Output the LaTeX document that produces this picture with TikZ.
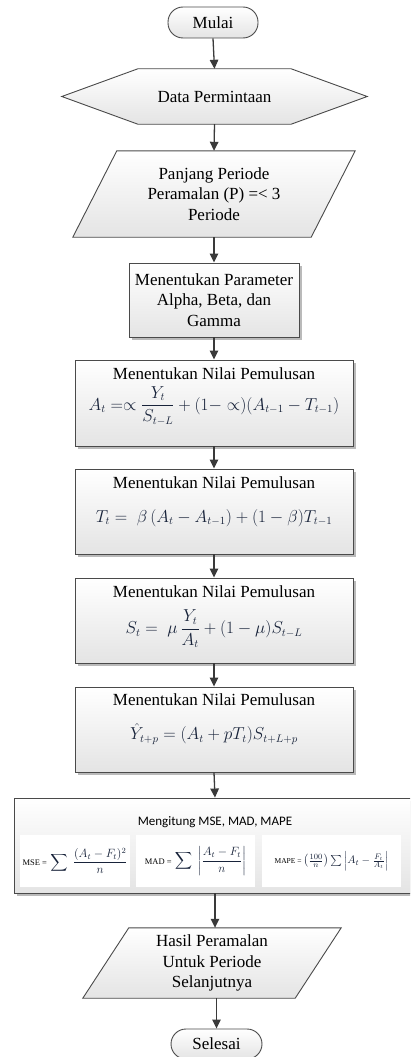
\documentclass[tikz,border=0pt]{standalone}
\usepackage{fontspec}
\setmainfont{Liberation Serif}
\newfontfamily\calibri{Carlito}
\usepackage{amsmath}
\usetikzlibrary{arrows.meta,shadows,backgrounds}
\definecolor{edge}{HTML}{4A4A4A}
\definecolor{arr}{HTML}{3A3A3A}
\definecolor{mathc}{HTML}{18233A}
\definecolor{fillbot}{HTML}{E4E4E4}
\begin{document}
\begin{tikzpicture}[x=1pt,y=-1pt,
  shapefill/.style={draw=edge, line width=0.9pt, top color=white, bottom color=fillbot},
  boxshadow/.style={drop shadow={shadow xshift=2.5pt, shadow yshift=-2.5pt, fill=black!45, opacity=0.6}},
  procbox/.style={shapefill, boxshadow, rectangle, inner sep=0pt},
  term/.style={shapefill, rounded corners=15pt, inner sep=0pt, font=\fontsize{17}{20}\selectfont},
  txt/.style={font=\fontsize{17}{20.5}\selectfont, align=center, inner sep=0pt},
  frm/.style={text=mathc, inner sep=0pt, font=\fontsize{16}{19}\selectfont},
  flow/.style={draw=arr, line width=1.3pt, -{Triangle[length=9pt,width=8.5pt]}},
  subbox/.style={fill=white, inner sep=0pt, minimum height=52pt, text=mathc},
]
\clip (0,0) rectangle (410,1057);
\useasboundingbox (0,0) rectangle (410,1057);

% terminator start
\node[term, minimum width=90pt, minimum height=31pt] (mulai) at (213,22.5) {Mulai};

% hexagon data
\node[txt, minimum width=305pt, minimum height=55pt] (data) at (214.5,96.5) {Data Permintaan};

% parallelogram input
\node[txt, minimum width=282pt, minimum height=86pt] (panjang) at (214,194) {Panjang Periode\\Peramalan (P) =< 3\\Periode};

% parameter box
\node[procbox, txt, minimum width=170pt, minimum height=74pt] (param) at (214,300) {Menentukan Parameter\\Alpha, Beta, dan\\Gamma};

% smoothing boxes
\node[procbox, minimum width=278pt, minimum height=86pt] (bA) at (214,403) {};
\node[txt] (tA) at (214,374) {Menentukan Nilai Pemulusan};
\node[frm] (fA) at (214,406) {$A_t = \propto \dfrac{Y_t}{S_{t-L}} + (1-\propto)(A_{t-1}-T_{t-1})$};

\node[procbox, minimum width=278pt, minimum height=85pt] (bT) at (214,511.5) {};
\node[txt] (tT) at (214,483) {Menentukan Nilai Pemulusan};
\node[frm] (fT) at (214,518) {$T_t = \;\beta\,(A_t - A_{t-1}) + (1-\beta)T_{t-1}$};

\node[procbox, minimum width=278pt, minimum height=85pt] (bS) at (214,620.5) {};
\node[txt] (tS) at (214,592) {Menentukan Nilai Pemulusan};
\node[frm] (fS) at (214,629) {$S_t = \;\mu\,\dfrac{Y_t}{A_t} + (1-\mu)S_{t-L}$};

\node[procbox, minimum width=278pt, minimum height=85pt] (bY) at (214,729.5) {};
\node[txt] (tY) at (214,700) {Menentukan Nilai Pemulusan};
\node[frm] (fY) at (214,734) {$\hat{Y}_{t+p} = (A_t + pT_t)S_{t+L+p}$};

% error measures box
\node[procbox, minimum width=402pt, minimum height=95pt] (bM) at (215,845.5) {};
\node[font=\calibri\fontsize{13}{15}\selectfont, inner sep=0pt] (tM) at (215,822) {Mengitung MSE, MAD, MAPE};
\node[subbox, minimum width=110pt, font=\fontsize{12}{14}\selectfont] (mse) at (75,861)
  {{\color{black}\fontsize{8.5}{9}\selectfont MSE =}\;$\displaystyle\sum\;\frac{(A_t-F_t)^2}{n}$};
\node[subbox, minimum width=119pt, font=\fontsize{12}{14}\selectfont] (mad) at (195.5,861)
  {{\color{black}\fontsize{8.5}{9}\selectfont MAD =}\;$\displaystyle\sum\;\left|\frac{A_t-F_t}{n}\right|$};
\node[subbox, minimum width=139pt, font=\fontsize{11}{13}\selectfont] (mape) at (331.5,861)
  {{\color{black}\fontsize{7.5}{8}\selectfont MAPE =}\,$\left(\frac{100}{n}\right)\sum\left|A_t-\frac{F_t}{A_t}\right|$};

% output parallelogram
\node[txt, minimum width=258pt, minimum height=70pt] (hasil) at (212,963) {Hasil Peramalan\\Untuk Periode\\Selanjutnya};

% terminator end
\node[term, minimum width=91pt, minimum height=30pt] (selesai) at (216.5,1044) {Selesai};

% drawn outlines behind texts
\begin{scope}[on background layer]
  \path[shapefill] (data.west) -- ([xshift=76pt]data.north west) -- ([xshift=-76pt]data.north east)
     -- (data.east) -- ([xshift=-76pt]data.south east) -- ([xshift=76pt]data.south west) -- cycle;
  \path[shapefill] ([xshift=44pt]panjang.north west) -- (panjang.north east)
     -- ([xshift=-44pt]panjang.south east) -- (panjang.south west) -- cycle;
  \path[shapefill] ([xshift=46pt]hasil.north west) -- (hasil.north east)
     -- ([xshift=-46pt]hasil.south east) -- (hasil.south west) -- cycle;
\end{scope}

% connectors
\draw[flow] (mulai.south) -- (data.north);
\draw[flow] (data.south) -- (panjang.north);
\draw[flow] (panjang.south) -- (param.north);
\draw[flow] (param.south) -- (bA.north);
\draw[flow] (bA.south) -- (bT.north);
\draw[flow] (bT.south) -- (bS.north);
\draw[flow] (bS.south) -- (bY.north);
\draw[flow] (bY.south) -- (bM.north);
\draw[flow] (bM.south) -- (hasil.north -| bM.south);
\draw[flow] (hasil.south -| selesai.north) -- (selesai.north);
\end{tikzpicture}
\end{document}
